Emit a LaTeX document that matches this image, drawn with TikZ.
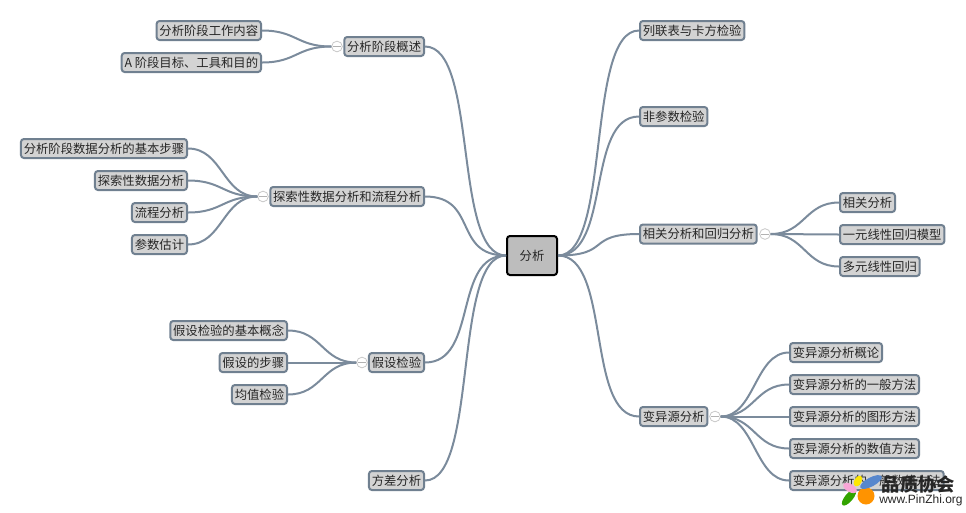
\documentclass[tikz,border=0pt]{standalone}
\usepackage{fontspec}
\setmainfont{Noto Sans CJK SC}
\newfontfamily\latinfont{Liberation Sans}
\usetikzlibrary{calc}
\definecolor{slate}{HTML}{708090}
\definecolor{wire}{HTML}{7B8B9C}
\definecolor{boxgray}{HTML}{D3D3D3}
\tikzset{
  topic/.style={draw=slate,fill=boxgray,line width=1.5pt,rounded corners=2.2pt,inner xsep=2.14pt,inner ysep=0pt,minimum height=14.25pt,font=\fontsize{9.25}{11}\selectfont,text=black!85},
  lefttopic/.style={topic,anchor=east},
  righttopic/.style={topic,anchor=west},
  rootbox/.style={topic,draw=black,fill=black!26,minimum width=37.5pt,minimum height=29.25pt},
  fold/.style={circle,draw=black!22,fill=white,line width=.6pt,minimum size=8pt,inner sep=0pt},
  link/.style={draw=wire,line width=1.5pt},
}
\begin{document}
\begin{tikzpicture}[x=.75pt,y=-.75pt]
\useasboundingbox (0,0) rectangle (966,512);
\node[rootbox] (root) at (532,255.5) {分析};
\node[lefttopic] (gaishu) at (425,46.5) {分析阶段概述};
\node[lefttopic] (gongzuo) at (262,30.5) {分析阶段工作内容};
\node[lefttopic] (mubiao) at (262,62.5) {A 阶段目标、工具和目的};
\node[lefttopic] (tansuo) at (425,196.5) {探索性数据分析和流程分析};
\node[lefttopic] (buzhou) at (188,148.5) {分析阶段数据分析的基本步骤};
\node[lefttopic] (shuju) at (188,180.5) {探索性数据分析};
\node[lefttopic] (liucheng) at (188,212.5) {流程分析};
\node[lefttopic] (canshu) at (188,244.5) {参数估计};
\node[lefttopic] (jiashe) at (425,362.5) {假设检验};
\node[lefttopic] (gainian) at (288,330.5) {假设检验的基本概念};
\node[lefttopic] (jsbz) at (288,362.5) {假设的步骤};
\node[lefttopic] (junzhi) at (288,394.5) {均值检验};
\node[lefttopic] (fangcha) at (425,480.5) {方差分析};
\node[righttopic] (lielian) at (639,30.5) {列联表与卡方检验};
\node[righttopic] (feican) at (639,116.5) {非参数检验};
\node[righttopic] (huigui) at (639,234) {相关分析和回归分析};
\node[righttopic] (xiangguan) at (839,202.5) {相关分析};
\node[righttopic] (yiyuan) at (839,234.5) {一元线性回归模型};
\node[righttopic] (duoyuan) at (839,266.5) {多元线性回归};
\node[righttopic] (bianyi) at (639,416.5) {变异源分析};
\node[righttopic] (gailun) at (789,352.5) {变异源分析概论};
\node[righttopic] (yiban) at (789,384.5) {变异源分析的一般方法};
\node[righttopic] (tuxing) at (789,416.5) {变异源分析的图形方法};
\node[righttopic] (shuzhi) at (789,448.5) {变异源分析的数值方法};
\node[righttopic] (zuihou) at (789,480.5) {变异源分析的一般数值方法};
\node[fold] (fgaishu) at (337,46.5) {};
\node[fold] (ftansuo) at (263,196.5) {};
\node[fold] (fjiashe) at (362,362.5) {};
\node[fold] (fhuigui) at (765,234) {};
\node[fold] (fbianyi) at (715,416.5) {};
\foreach \dotname in {fgaishu,ftansuo,fjiashe,fhuigui,fbianyi}
  \draw[black!30,line width=.6pt] ($(\dotname.west)+(2,0)$)--($(\dotname.east)+(-2,0)$);
\foreach \lnode/\rnode in {gaishu/root,tansuo/root,jiashe/root,fangcha/root,root/lielian,root/feican,root/huigui,root/bianyi}
  \draw[link] let \p1=(\lnode.east),\p2=(\rnode.west),\n1={(\x2-\x1)*.66} in (\p1) .. controls +(\n1,0) and ($(\p2)-(\n1,0)$) .. (\p2);
\foreach \lnode/\rnode in {gongzuo/fgaishu,mubiao/fgaishu,buzhou/ftansuo,shuju/ftansuo,liucheng/ftansuo,canshu/ftansuo,gainian/fjiashe,jsbz/fjiashe,junzhi/fjiashe,fhuigui/xiangguan,fhuigui/yiyuan,fhuigui/duoyuan,fbianyi/gailun,fbianyi/yiban,fbianyi/tuxing,fbianyi/shuzhi,fbianyi/zuihou}
  \draw[link] let \p1=(\lnode.east),\p2=(\rnode.west),\n1={(\x2-\x1)*.5} in (\p1) .. controls +(\n1,0) and ($(\p2)-(\n1,0)$) .. (\p2);
\fill[green!55!black!80!yellow,rotate around={50:(849,497.5)}] (849,497.5) ellipse (10 and 4);
\fill[magenta!35] [rotate around={-30:(850,488)}] (850,488) ellipse (7.5 and 4);
\fill[orange!85!yellow] (866,496) circle (8.5);
\fill[yellow!90!orange,rotate around={60:(858,481)}] (858,481) ellipse (6 and 3.5);
\fill[cyan!45!blue!70,rotate around={28:(871,482)}] (871,482) ellipse (12 and 4.5);
\node[font=\fontsize{13.7}{16}\selectfont\bfseries,text=black!85,inner sep=0pt] (logotext) at (918.5,484) {品质协会};
\node[font=\fontsize{9}{11}\selectfont\latinfont,text=black!85,inner sep=0pt,anchor=west] (logourl) at (879,500.5) {www.PinZhi.org};
\end{tikzpicture}
\end{document}
